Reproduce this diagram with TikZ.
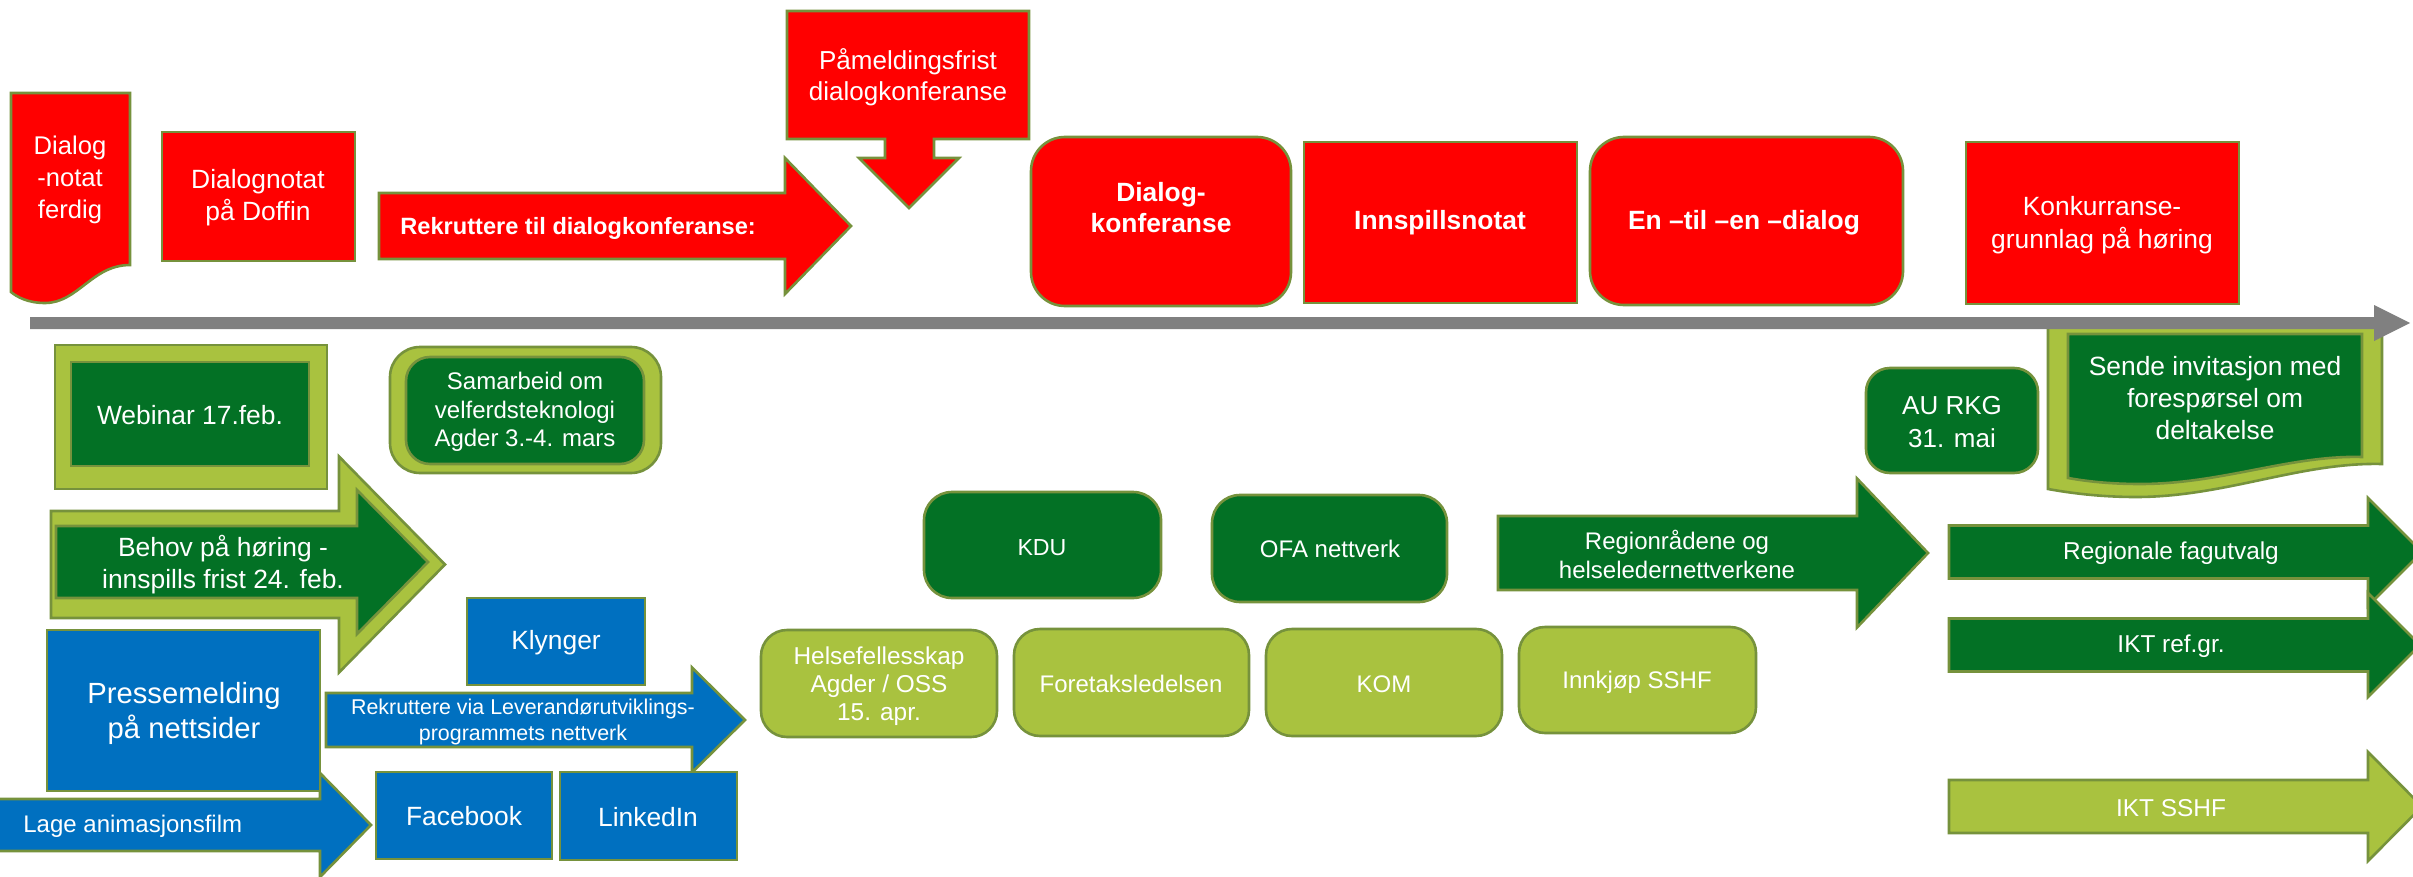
\documentclass[tikz,border=0pt]{standalone}
\usepackage{fontspec}
\setmainfont{Liberation Sans}
\definecolor{tred}{HTML}{FF0000}
\definecolor{dgreen}{HTML}{037125}
\definecolor{lgreen}{HTML}{A9C23F}
\definecolor{olivebd}{HTML}{76923C}
\definecolor{tblue}{HTML}{0070C0}
\definecolor{tgray}{HTML}{808080}
\tikzset{
  redshape/.style={fill=tred, draw=olivebd, line width=1.3pt},
  dgshape/.style={fill=dgreen, draw=olivebd, line width=1.3pt},
  lgshape/.style={fill=lgreen, draw=olivebd, line width=1.3pt},
  blshape/.style={fill=tblue, draw=olivebd, line width=1.3pt},
  lbl/.style={text=white, align=center, inner sep=0pt},
  fa/.style={font=\fontsize{13.2}{16}\selectfont},
  fb/.style={font=\fontsize{12}{14.5}\selectfont},
  fc/.style={font=\fontsize{12.2}{14.5}\selectfont},
  fbold/.style={font=\bfseries\fontsize{13.2}{15.5}\selectfont}
}
\newcommand\tlarrow[7]{%
  \draw[#1] (#2,#5-#6) -- (#3,#5-#6) -- (#3,#5-#7) -- (#4,#5) -- (#3,#5+#7) -- (#3,#5+#6) -- (#2,#5+#6) -- cycle;}
\begin{document}
\begin{tikzpicture}[x=0.5pt,y=-0.5pt]
\useasboundingbox[fill=white] (0,0) rectangle (2413,877);

% ---------- red row ----------
\draw[redshape] (11,93) -- (130,93) -- (130,265) .. controls (92,265) and (78,303) .. (45,303) .. controls (28,303) and (17,297) .. (11,292) -- cycle;
\node[lbl, font=\fontsize{12.8}{16}\selectfont] (dn) at (70,180) {Dialog\\-notat\\ferdig};

\draw[redshape] (162,132) rectangle (355,261);
\node[lbl,fa] (dd) at (258,198) {Dialognotat\\på Doffin};

\tlarrow{redshape}{379}{785}{851}{226}{33}{68}
\node[lbl, font=\bfseries\fontsize{11.8}{13}\selectfont, anchor=west] (rk) at (400,228) {Rekruttere til dialogkonferanse:};

\draw[redshape] (787,11) -- (1029,11) -- (1029,139) -- (934,139) -- (934,158) -- (959,158) -- (909,208) -- (859,158) -- (885,158) -- (885,139) -- (787,139) -- cycle;
\node[lbl, font=\fontsize{13}{15.5}\selectfont] (pm) at (908,77) {Påmeldingsfrist\\dialogkonferanse};

\draw[redshape, rounded corners=17pt] (1031,137) rectangle (1291,306);
\node[lbl,fbold] (dk) at (1161,208) {Dialog-\\konferanse};

\draw[redshape] (1304,142) rectangle (1577,303);
\node[lbl,fbold] (inn) at (1440,223) {Innspillsnotat};

\draw[redshape, rounded corners=17pt] (1590,137) rectangle (1903,305);
\node[lbl,fbold] (en) at (1744,223) {En –til –en –dialog};

\draw[redshape] (1966,142) rectangle (2239,304);
\node[lbl, font=\fontsize{13.2}{16.5}\selectfont] (kg) at (2102,225) {Konkurranse-\\grunnlag på høring};

% ---------- Sende invitasjon (document shape) ----------
\draw[lgshape] (2048,327) -- (2382,327) -- (2382,464) .. controls (2300,462) and (2225,497) .. (2136,497) .. controls (2100,497) and (2070,493) .. (2048,489) -- cycle;
\draw[dgshape] (2068,334) -- (2362,334) -- (2362,457) .. controls (2290,455) and (2222,484) .. (2140,484) .. controls (2108,484) and (2085,481) .. (2068,478) -- cycle;
\node[lbl, font=\fontsize{13.2}{16}\selectfont] (si) at (2215,398) {Sende invitasjon med\\forespørsel om\\deltakelse};

% ---------- timeline ----------
\draw[fill=tgray, draw=none] (30,317) -- (2374,317) -- (2374,305) -- (2410,323) -- (2374,341) -- (2374,329) -- (30,329) -- cycle;

% ---------- lower left ----------
\draw[lgshape] (55,345) rectangle (327,489);
\draw[dgshape] (71,362) rectangle (309,466);
\node[lbl,fa] (web) at (190,415) {Webinar 17.feb.};

\draw[lgshape, rounded corners=15pt] (390,347) rectangle (661,473);
\draw[dgshape, rounded corners=12pt] (406,357) rectangle (644,464);
\node[lbl, font=\fontsize{12}{14.3}\selectfont] (sam) at (525,412) {Samarbeid om\\velferdsteknologi\\Agder 3.-4. mars};

\tlarrow{lgshape}{51}{339}{445}{564.5}{53.5}{108}
\tlarrow{dgshape}{56}{357}{428}{562}{36}{72}
\node[lbl,fa] (beh) at (223,565) {Behov på høring -\\innspills frist 24. feb.};

\draw[blshape] (467,598) rectangle (645,685);
\node[lbl,fa] (kly) at (556,643) {Klynger};

\tlarrow{blshape}{-5}{320}{371}{825}{26}{52}
\node[lbl, font=\fontsize{12}{14}\selectfont, anchor=west] (lag) at (23,826) {Lage animasjonsfilm};

\draw[blshape] (47,630) rectangle (320,791);
\node[lbl, font=\fontsize{14.6}{17.5}\selectfont] (pre) at (184,713) {Pressemelding\\på nettsider};

\tlarrow{blshape}{326}{692}{745}{720}{27}{52.5}
\node[lbl, font=\fontsize{10.7}{13}\selectfont] (rv) at (523,722) {Rekruttere via Leverandørutviklings-\\programmets nettverk};

\draw[blshape] (376,772) rectangle (552,859);
\node[lbl,fa] (fb) at (464,816) {Facebook};
\draw[blshape] (560,772) rectangle (737,860);
\node[lbl,fa] (li) at (648,817) {LinkedIn};

% ---------- middle ----------
\draw[dgshape, rounded corners=14pt] (924,492) rectangle (1161,598);
\node[lbl, font=\fontsize{11.6}{14}\selectfont] (kdu) at (1042,548) {KDU};
\draw[dgshape, rounded corners=14pt] (1212,495) rectangle (1447,602);
\node[lbl,fb] (ofa) at (1330,549) {OFA nettverk};

\draw[lgshape, rounded corners=13pt] (761,630) rectangle (997,737);
\node[lbl, font=\fontsize{12.2}{14}\selectfont] (hf) at (879,686) {Helsefellesskap\\Agder / OSS\\15. apr.};
\draw[lgshape, rounded corners=13pt] (1014,629) rectangle (1249,736);
\node[lbl,fb] (fl) at (1131,684) {Foretaksledelsen};
\draw[lgshape, rounded corners=13pt] (1266,629) rectangle (1502,736);
\node[lbl,fb] (kom) at (1384,684) {KOM};
\draw[lgshape, rounded corners=13pt] (1519,627) rectangle (1756,733);
\node[lbl,fb] (ink) at (1637,682) {Innkjøp SSHF};

\tlarrow{dgshape}{1498}{1857}{1928}{553}{37}{74.5}
\node[lbl, font=\fontsize{12}{14.5}\selectfont] (reg) at (1677,554) {Regionrådene og\\helseledernettverkene};

% ---------- right ----------
\draw[dgshape, rounded corners=12pt] (1866,368) rectangle (2038,473);
\node[lbl, font=\fontsize{13}{16.5}\selectfont] (au) at (1952,422) {AU RKG\\31. mai};

\tlarrow{dgshape}{1949}{2368}{2422}{552}{26.5}{54}
\node[lbl,fc] (rf) at (2171,553) {Regionale fagutvalg};
\tlarrow{dgshape}{1949}{2368}{2420}{645}{26.5}{52}
\node[lbl,fc] (ikr) at (2171,646) {IKT ref.gr.};
\tlarrow{lgshape}{1949}{2368}{2422}{806.5}{26.5}{54.5}
\node[lbl,fc] (iks) at (2171,808) {IKT SSHF};
\end{tikzpicture}
\end{document}
